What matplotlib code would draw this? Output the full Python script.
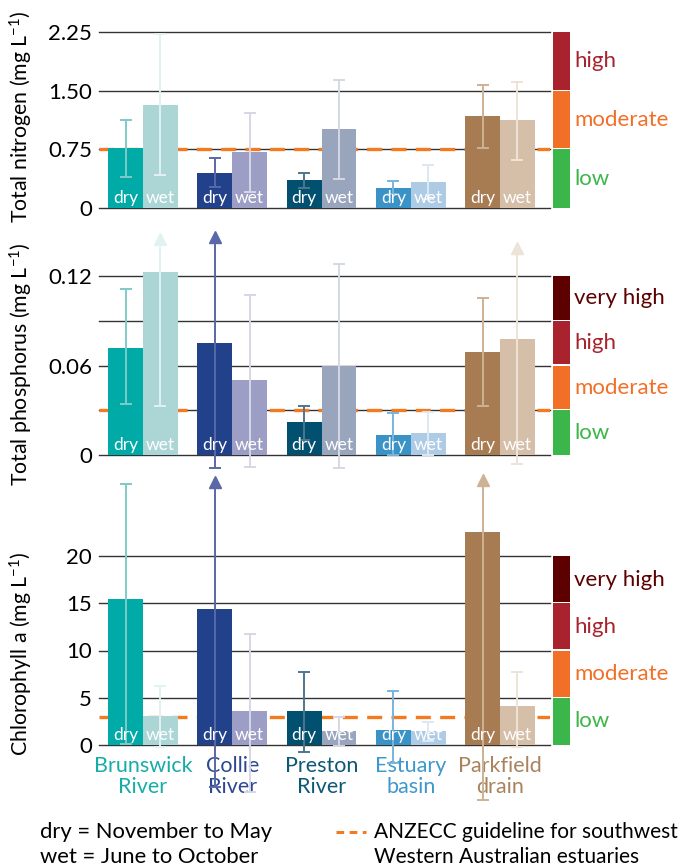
import matplotlib
matplotlib.use("Agg")
import matplotlib.pyplot as plt
from matplotlib.lines import Line2D
from matplotlib.patches import Rectangle

plt.rcParams['font.family'] = ['Lato', 'DejaVu Sans']
plt.rcParams['mathtext.default'] = 'regular'

SITES = ["Brunswick\nRiver", "Collie\nRiver", "Preston\nRiver", "Estuary\nbasin", "Parkfield\ndrain"]
SITE_COLORS = ["#17aca8", "#2c4890", "#0d5877", "#3f98cd", "#a9835d"]
DRY_COLORS = ["#00aaa7", "#21428a", "#02506f", "#3a93c6", "#a87c52"]
WET_COLORS = ["#acd6d6", "#9d9ec5", "#98a5bc", "#aecbe6", "#d6bfa8"]
DRY_ERR_COLORS = ["#7fcac7", "#5a67a8", "#50758f", "#7ab4dc", "#cdb293"]
WET_ERR_COLORS = ["#e2f1f1", "#d6d6e8", "#d3d8e2", "#dce9f5", "#eee3d7"]

# total nitrogen
tn_dry = [0.77, 0.45, 0.36, 0.26, 1.18]
tn_dry_lo = [0.40, 0.27, 0.26, 0.18, 0.77]
tn_dry_hi = [1.13, 0.64, 0.45, 0.35, 1.57]
tn_wet = [1.32, 0.72, 1.01, 0.33, 1.13]
tn_wet_lo = [0.42, 0.21, 0.37, 0.12, 0.61]
tn_wet_hi = [2.23, 1.21, 1.64, 0.55, 1.61]
tn_dry_arrow = [False, False, False, False, False]
tn_wet_arrow = [False, False, False, False, False]

# total phosphorus
tp_dry = [0.072, 0.075, 0.022, 0.0136, 0.069]
tp_dry_lo = [0.034, -0.009, 0.010, 0.0, 0.033]
tp_dry_hi = [0.111, 0.146, 0.033, 0.028, 0.105]
tp_wet = [0.1226, 0.0504, 0.0595, 0.015, 0.0778]
tp_wet_lo = [0.033, -0.008, -0.009, 0.0, -0.006]
tp_wet_hi = [0.145, 0.107, 0.128, 0.029, 0.139]
tp_dry_arrow = [False, True, False, False, False]
tp_wet_arrow = [True, False, False, False, True]

# chlorophyll a
chl_dry = [15.4, 14.4, 3.6, 1.58, 22.5]
chl_dry_lo = [0.1, -4.4, -0.7, -1.9, -5.8]
chl_dry_hi = [27.6, 27.8, 7.75, 5.67, 28.0]
chl_wet = [3.06, 3.6, 1.5, 1.48, 4.12]
chl_wet_lo = [-0.25, -5.0, -0.1, 0.45, -0.2]
chl_wet_hi = [6.2, 11.7, 2.95, 2.4, 7.75]
chl_dry_arrow = [False, True, False, False, True]
chl_wet_arrow = [False, False, False, False, False]

GUIDELINES = [0.75, 0.03, 3.0]
YLABELS = ["Total nitrogen (mg L$^{-1}$)", "Total phosphorus (mg L$^{-1}$)", "Chlorophyll a (mg L$^{-1}$)"]
YTICKS = [[0, 0.75, 1.50, 2.25], [0, 0.06, 0.12], [0, 5, 10, 15, 20]]
YTICKLABELS = [["0", "0.75", "1.50", "2.25"], ["0", "0.06", "0.12"], ["0", "5", "10", "15", "20"]]
YGRID = [[0, 0.75, 1.50, 2.25], [0, 0.03, 0.06, 0.09, 0.12], [0, 5, 10, 15, 20]]
BAND_EDGES = [[0, 0.75, 1.5, 2.25], [0, 0.03, 0.06, 0.09, 0.12], [0, 5, 10, 15, 20]]
BAND_NAMES = [["low", "moderate", "high"],
              ["low", "moderate", "high", "very high"],
              ["low", "moderate", "high", "very high"]]
BAND_COLORS = {"low": "#3bb64a", "moderate": "#f26f27", "high": "#a8232d", "very high": "#5c0000"}

W, H = 688, 867
fig = plt.figure(figsize=(W / 100, H / 100), dpi=100)


def px_axes(x0, ytop, x1, ybot):
    return fig.add_axes([x0 / W, 1 - ybot / H, (x1 - x0) / W, (ybot - ytop) / H])


def draw_err(ax, x, lo, hi, color, arrow):
    ax.plot([x, x], [lo, hi], color=color, lw=1.4, clip_on=False, zorder=4, solid_capstyle='butt')
    ax.plot([x], [lo], marker='_', ms=9, mew=1.4, color=color, clip_on=False, zorder=4)
    if arrow:
        ax.plot([x], [hi], marker='^', ms=9, color=color, mec=color, clip_on=False, zorder=4)
    else:
        ax.plot([x], [hi], marker='_', ms=9, mew=1.4, color=color, clip_on=False, zorder=4)


panels = [
    (tn_dry, tn_dry_lo, tn_dry_hi, tn_dry_arrow, tn_wet, tn_wet_lo, tn_wet_hi, tn_wet_arrow),
    (tp_dry, tp_dry_lo, tp_dry_hi, tp_dry_arrow, tp_wet, tp_wet_lo, tp_wet_hi, tp_wet_arrow),
    (chl_dry, chl_dry_lo, chl_dry_hi, chl_dry_arrow, chl_wet, chl_wet_lo, chl_wet_hi, chl_wet_arrow),
]
boxes = [(99, 32, 550, 208), (99, 276, 550, 455), (99, 556, 550, 745)]
ylabel_y = [117, 364, 654]

bw = 0.39
xs = list(range(len(SITES)))

for k, (ax_box, data) in enumerate(zip(boxes, panels)):
    ax = px_axes(*ax_box)
    dry, dlo, dhi, darr, wet, wlo, whi, warr = data
    ax.set_xlim(-0.493, 4.56)
    ax.set_ylim(0, YGRID[k][-1])
    for s in ax.spines.values():
        s.set_visible(False)
    for g in YGRID[k]:
        ax.axhline(g, color="#333333", lw=1.0, zorder=0.5, clip_on=False)
    ax.axhline(GUIDELINES[k], color="#f47a20", lw=2.4, dashes=(4.5, 2.8), zorder=1)

    for i in xs:
        ax.bar(i - bw / 2, dry[i], width=bw, color=DRY_COLORS[i], zorder=2, clip_on=False)
        ax.bar(i + bw / 2, wet[i], width=bw, color=WET_COLORS[i], zorder=2, clip_on=False)
        draw_err(ax, i - bw / 2, dlo[i], dhi[i], DRY_ERR_COLORS[i], darr[i])
        draw_err(ax, i + bw / 2, wlo[i], whi[i], WET_ERR_COLORS[i], warr[i])
        ax.annotate("dry", (i - bw / 2, 0), xytext=(0, 7), textcoords="offset points",
                    ha="center", va="center", color="white", fontsize=12.5, zorder=5)
        ax.annotate("wet", (i + bw / 2, 0), xytext=(0, 7), textcoords="offset points",
                    ha="center", va="center", color="white", fontsize=12.5, zorder=5)

    ax.set_yticks(YTICKS[k])
    ax.set_yticklabels(YTICKLABELS[k], fontsize=16)
    ax.tick_params(axis="y", length=0, pad=5)
    if k == 2:
        ax.set_xticks(xs)
        ax.set_xticklabels(SITES, fontsize=15.5, linespacing=1.05)
        for lbl, c in zip(ax.get_xticklabels(), SITE_COLORS):
            lbl.set_color(c)
        ax.tick_params(axis="x", length=0, pad=8)
    else:
        ax.set_xticks([])

    # rating bands on the right
    trans = ax.get_yaxis_transform()
    edges = BAND_EDGES[k]
    span = edges[-1] - edges[0]
    for j, name in enumerate(BAND_NAMES[k]):
        lo, hi = edges[j], edges[j + 1]
        gap = span * 0.006
        ax.add_patch(Rectangle((1.0067, lo + (gap if j > 0 else 0)), 0.0377, hi - lo - (gap if j > 0 else 0),
                               transform=trans, color=BAND_COLORS[name], clip_on=False, lw=0))
        ax.text(1.053, (lo + hi) / 2, name, transform=trans, color=BAND_COLORS[name],
                fontsize=16, va="center", ha="left")

    fig.text(21 / W, 1 - ylabel_y[k] / H, YLABELS[k], rotation=90, ha="center", va="center", fontsize=15.3)

# notes at the bottom
fig.text(40 / W, 1 - 832 / H, "dry = November to May", fontsize=15.8, va="center", ha="left")
fig.text(40 / W, 1 - 857 / H, "wet = June to October", fontsize=15.8, va="center", ha="left")
fig.add_artist(Line2D([336 / W, 366 / W], [1 - 832 / H, 1 - 832 / H], color="#f47a20", lw=2.2,
                      dashes=(2.5, 1.8)))
fig.text(374 / W, 1 - 832 / H, "ANZECC guideline for southwest", fontsize=15, va="center", ha="left")
fig.text(374 / W, 1 - 857 / H, "Western Australian estuaries", fontsize=15, va="center", ha="left")

fig.savefig("out.png", dpi=100)
